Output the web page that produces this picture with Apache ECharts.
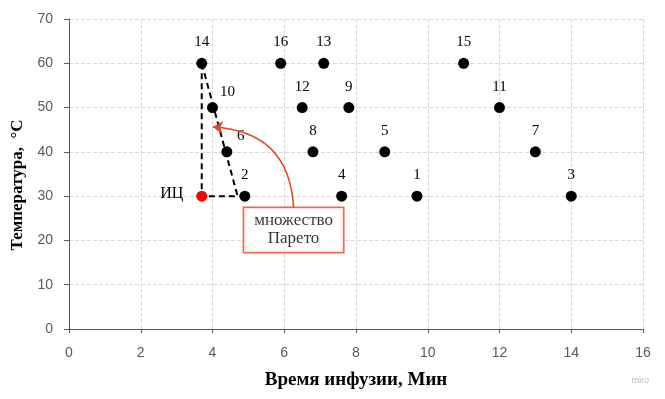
<!DOCTYPE html>
<html><head><meta charset="utf-8">
<script src="https://cdn.jsdelivr.net/npm/echarts@6/dist/echarts.min.js"></script>
<style>html,body{margin:0;padding:0;background:#fff}#c{width:665px;height:399px}</style>
</head><body><div id="c"></div>
<script>
// Data
const pointLabels = ['1','2','3','4','5','6','7','8','9','10','11','12','13','14','15','16'];
const infusionTime = [9.7, 4.9, 14, 7.6, 8.8, 4.4, 13, 6.8, 7.8, 4.0, 12, 6.5, 7.1, 3.7, 11, 5.9];
const temperature  = [30, 30, 30, 30, 40, 40, 40, 40, 50, 50, 50, 50, 60, 60, 60, 60];
const idealPointLabel = 'ИЦ';
const idealPoint = [3.7, 30];
const paretoOutlineX = [3.7, 3.7, 4.7, 3.7];
const paretoOutlineY = [60, 30, 30, 60];
const annotationText = 'множество\nПарето';
const annotationPos = [6.26, 22.35];
const arrowFrom = [6.26, 27.3];
const arrowTo = [4.01, 45.6];
const xTicks = {min: 0, max: 16, interval: 2};
const yTicks = {min: 0, max: 70, interval: 10};

const serif = '"Liberation Serif","DejaVu Serif",serif';
const sans = '"Liberation Sans","Open Sans",sans-serif';
// labels sitting to the upper right of their points
const shiftedLabels = {'10': [15, 5], '6': [14, 5]};

const chart = echarts.init(document.getElementById('c'));
chart.setOption({
  animation: false,
  backgroundColor: '#fff',
  grid: {left: 69, right: 22, top: 19, bottom: 70},
  xAxis: {
    type: 'value', min: xTicks.min, max: xTicks.max, interval: xTicks.interval,
    name: 'Время инфузии, Мин', nameLocation: 'middle', nameGap: 42,
    nameTextStyle: {fontFamily: serif, fontWeight: 'bold', fontSize: 19, color: '#000'},
    axisLine: {lineStyle: {color: '#595959', width: 1}},
    axisTick: {show: true, length: 4, lineStyle: {color: '#595959'}},
    axisLabel: {fontFamily: sans, fontSize: 14, color: '#595959', margin: 17},
    splitLine: {show: true, lineStyle: {color: '#d9d9d9', type: [4, 2], width: 1}}
  },
  yAxis: {
    type: 'value', min: yTicks.min, max: yTicks.max, interval: yTicks.interval,
    name: 'Температура,  °С', nameLocation: 'middle', nameGap: 42,
    nameTextStyle: {fontFamily: serif, fontWeight: 'bold', fontSize: 17, color: '#000', padding: [0, 22, 0, 0]},
    axisLine: {show: true, lineStyle: {color: '#595959', width: 1}},
    axisTick: {show: true, length: 5, lineStyle: {color: '#595959'}},
    axisLabel: {fontFamily: sans, fontSize: 14, color: '#595959', margin: 16},
    splitLine: {show: true, lineStyle: {color: '#d9d9d9', type: [4, 2], width: 1}}
  },
  series: [
    {
      type: 'line', data: paretoOutlineX.map((x, i) => [x, paretoOutlineY[i]]),
      symbol: 'none', z: 2,
      lineStyle: {color: '#000', width: 2, type: [6, 4]}
    },
    {
      type: 'scatter', symbolSize: 11, z: 3,
      itemStyle: {color: '#000', opacity: 1},
      data: infusionTime.map((x, i) => {
        const lab = {formatter: pointLabels[i]};
        if (shiftedLabels[pointLabels[i]]) lab.offset = shiftedLabels[pointLabels[i]];
        return {value: [x, temperature[i]], label: lab};
      }),
      label: {show: true, position: 'top', distance: 8, fontFamily: serif, fontSize: 15, color: '#000'}
    },
    {
      type: 'scatter', symbolSize: 11, z: 4,
      itemStyle: {color: '#ff0000', opacity: 1},
      data: [{value: idealPoint}],
      label: {show: true, position: 'left', distance: 13, formatter: idealPointLabel, fontFamily: serif, fontSize: 16, color: '#000', offset: [0, -2]}
    },
    {
      type: 'lines', coordinateSystem: 'cartesian2d', z: 5,
      symbol: ['none', 'arrow'], symbolSize: 10,
      lineStyle: {color: '#e0461e', width: 1.5, curveness: -0.45, opacity: 1},
      data: [{coords: [arrowFrom, arrowTo]}]
    },
    {
      type: 'scatter', symbolSize: 0, z: 6, silent: true,
      data: [{value: annotationPos}],
      label: {show: true, position: 'inside', formatter: annotationText,
        fontFamily: serif, fontSize: 17, color: '#000', lineHeight: 18, align: 'center',
        backgroundColor: '#fff', borderColor: '#e0461e', borderWidth: 1.5,
        padding: [4, 11, 4, 11], width: 77}
    }
  ],
  graphic: [{
    type: 'text', right: 16, bottom: 14,
    style: {text: 'miro', fill: '#b8b8b8', font: '9px ' + sans}
  }]
});
</script></body></html>
